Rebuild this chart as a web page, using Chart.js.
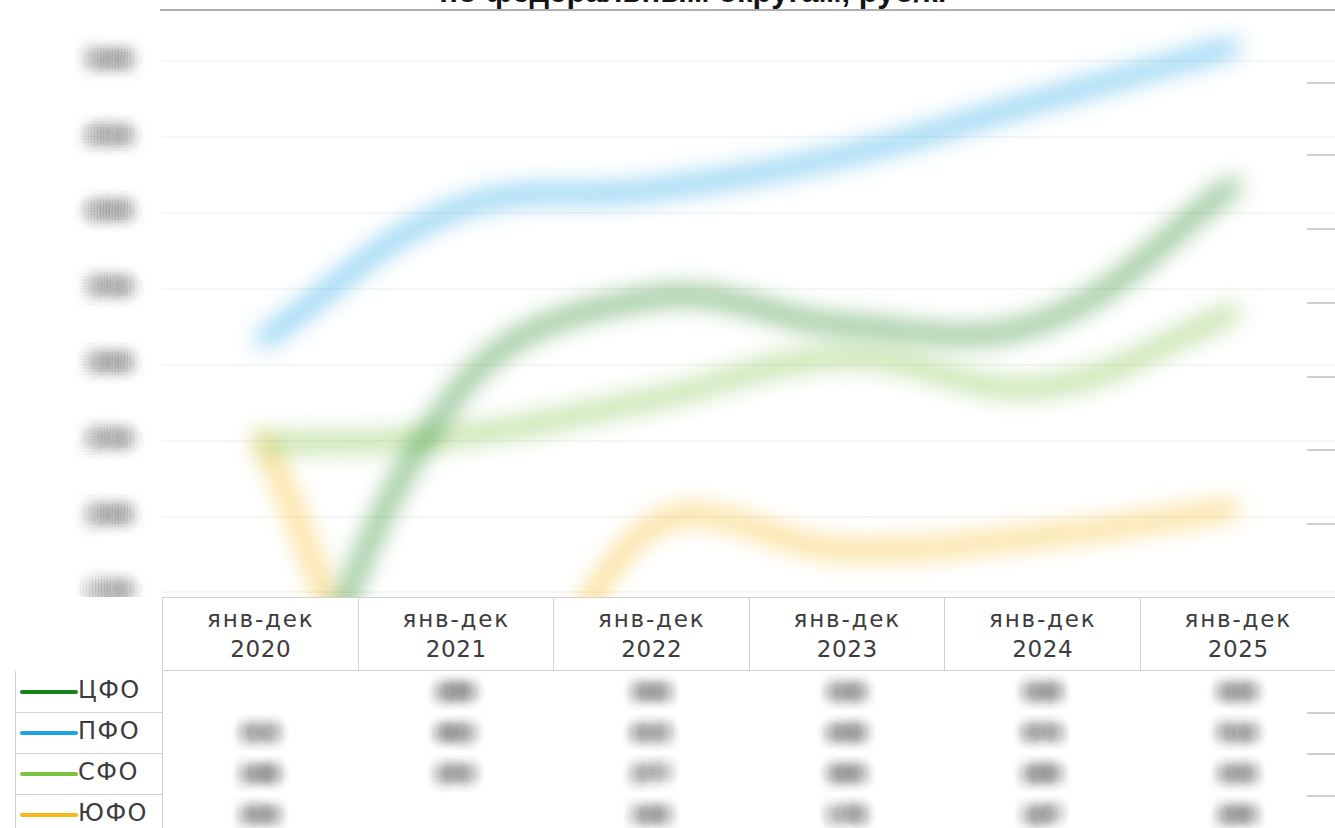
<!DOCTYPE html>
<html>
<head>
<meta charset="utf-8">
<script src="https://cdn.jsdelivr.net/npm/chart.js@4.4.1/dist/chart.umd.min.js"></script>
<style>
  body { margin: 0; width: 1335px; height: 828px; overflow: hidden; background: #fff; position: relative; font-family: 'DejaVu Sans', sans-serif; }
  #title { position: absolute; left: 160px; width: 1070px; top: -26px; text-align: center; font: bold 31px 'Liberation Sans', Arial, sans-serif; color: #151515; white-space: nowrap; }
  #rule { position: absolute; left: 160px; right: 0; top: 9px; height: 2px; background: #b0b0b0; }
  #chartBox { position: absolute; left: 0; top: 0; }
  .cell { position: absolute; box-sizing: border-box; color: #3c3c3c; text-align: center; }
  .head { border-left: 1px solid #d2d2d2; border-top: 1px solid #d2d2d2; border-bottom: 1px solid #d2d2d2; font-size: 23px; line-height: 30px; padding-top: 6px; }
  .head .p { letter-spacing: 1.8px; }
  .head .y { letter-spacing: 0.6px; }
  .leg { border: 1px solid #d2d2d2; border-top: none; font-size: 24px; letter-spacing: 1.5px; text-align: left; }
  .leg .sw { position: absolute; left: 4px; top: 19px; width: 58px; height: 4px; border-radius: 2px; }
  .leg .nm { position: absolute; left: 62px; top: 5px; }
  .val { color: transparent; font-size: 18px; font-weight: bold; line-height: 41px; }
  .side { position: absolute; left: 1307px; width: 28px; height: 2px; background: #cfcfcf; }
</style>
</head>
<body>
<div id="title">по федеральным округам, руб/кг</div>
<div id="rule"></div>
<div id="chartBox"><canvas id="priceChart" width="1335" height="597"></canvas></div>
<div id="table"></div>
<div class="side" style="top:82px"></div>
<div class="side" style="top:154px"></div>
<div class="side" style="top:228px"></div>
<div class="side" style="top:302px"></div>
<div class="side" style="top:376px"></div>
<div class="side" style="top:449px"></div>
<div class="side" style="top:523px"></div>
<div class="side" style="top:712px"></div>
<div class="side" style="top:753px"></div>
<div class="side" style="top:795px"></div>
<script>
// periods (x categories)
var periods = ['янв-дек 2020', 'янв-дек 2021', 'янв-дек 2022', 'янв-дек 2023', 'янв-дек 2024', 'янв-дек 2025'];
// series, руб/кг (null = no data)
var seriesNames = ['ЦФО', 'ПФО', 'СФО', 'ЮФО'];
var cfo = [null, 280, 344, 326, 328, 420];
var pfo = [315, 402, 415, 438, 474, 510];
var sfo = [248, 253, 277, 305, 285, 335];
var yufo = [254, null, 193, 178, 187, 205];
var seriesColors = ['#1a821a', '#1aa3e6', '#7cc144', '#f6b91c'];
// y axis tick labels
var yTicks = [150, 200, 250, 300, 350, 400, 450, 500];

var seriesData = [cfo, pfo, sfo, yufo];

// soft (blurred) lines like the reference picture
var blurPlugin = {
    id: 'blur',
    beforeDatasetsDraw: function(chart) { chart.ctx.save(); chart.ctx.filter = 'blur(12px)'; },
    afterDatasetsDraw: function(chart) { chart.ctx.restore(); }
};

// y tick labels drawn smeared (many faint copies) so they read as blurred blobs
var tickBlobs = {
    id: 'tickBlobs',
    afterDraw: function(chart) {
        var c = chart.ctx, y = chart.scales.y;
        c.save();
        c.font = 'bold 22px "DejaVu Sans"';
        c.textAlign = 'right';
        c.textBaseline = 'middle';
        c.fillStyle = '#505050';
        for (var dx = -15; dx <= 15; dx += 3) {
            for (var dy = -15; dy <= 15; dy += 3) {
                c.globalAlpha = 0.03 * Math.exp(-(dx * dx + dy * dy) / 200);
                y.ticks.forEach(function(t) {
                    c.fillText(String(t.value), y.right - 30 + dx, y.getPixelForValue(t.value) + dy);
                });
            }
        }
        c.restore();
    }
};

var ctx = document.getElementById('priceChart').getContext('2d');
var priceChart = new Chart(ctx, {
    type: 'line',
    data: {
        labels: periods,
        datasets: seriesNames.map(function(name, i) {
            return {
                label: name,
                // empty cells are plotted as zero, as in the source spreadsheet
                data: seriesData[i].map(function(v) { return v === null ? 0 : v; }),
                borderColor: seriesColors[i],
                borderWidth: 9,
                pointRadius: 0,
                tension: 0.4,
                fill: false
            };
        })
    },
    options: {
        responsive: false,
        animation: false,
        layout: { padding: { top: 10, bottom: 0, left: 0, right: 0 } },
        plugins: { legend: { display: false }, tooltip: { enabled: false } },
        scales: {
            x: { display: false, offset: true },
            y: {
                min: 147,
                max: 533.5,
                afterBuildTicks: function(scale) {
                    scale.ticks = yTicks.map(function(v) { return { value: v }; });
                },
                afterFit: function(scale) {
                    scale.width = 162;
                    scale.paddingTop = 0;
                    scale.paddingBottom = 0;
                },
                grid: { color: '#f6f6f6', lineWidth: 2, drawTicks: false },
                border: { display: false },
                ticks: { display: false }
            }
        }
    },
    plugins: [blurPlugin, tickBlobs]
});

// smeared text-shadow for the blurred table values
var shadows = [];
for (var dx = -12; dx <= 12; dx += 3) {
    for (var dy = -12; dy <= 12; dy += 3) {
        var a = 0.05 * Math.exp(-(dx * dx + dy * dy) / 130);
        shadows.push(dx + 'px ' + dy + 'px 2px rgba(70,70,70,' + a.toFixed(4) + ')');
    }
}
var valShadow = shadows.join(',');

// data table under the plot, built from the same arrays
var table = document.getElementById('table');
var area = priceChart.chartArea;
var colW = (area.right - area.left) / periods.length;
function addCell(cls, left, top, w, h, html) {
    var d = document.createElement('div');
    d.className = 'cell ' + cls;
    d.style.left = left + 'px'; d.style.top = top + 'px';
    d.style.width = w + 'px'; d.style.height = h + 'px';
    d.innerHTML = html;
    table.appendChild(d);
    return d;
}
periods.forEach(function(p, j) {
    var parts = p.split(' ');
    addCell('head', area.left + j * colW, 597, colW + 1, 74,
        '<span class="p">' + parts[0] + '</span><br><span class="y">' + parts[1] + '</span>');
});
seriesNames.forEach(function(name, i) {
    var top = 671 + i * 41;
    addCell('leg', 15, top, 148, 42,
        '<span class="sw" style="background:' + seriesColors[i] + '"></span><span class="nm">' + name + '</span>');
    seriesData[i].forEach(function(v, j) {
        var d = addCell('val', area.left + j * colW, top, colW, 41, v === null ? '' : String(v));
        d.style.textShadow = valShadow;
    });
});
</script>
</body>
</html>
